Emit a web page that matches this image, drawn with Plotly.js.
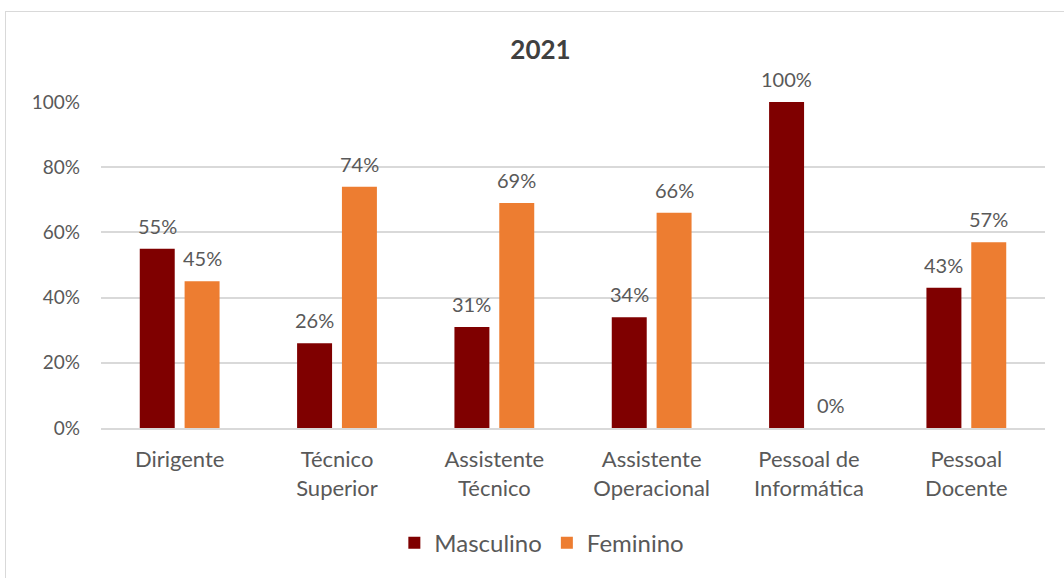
<!DOCTYPE html>
<html>
<head>
<meta charset="utf-8">
<script src="https://cdn.plot.ly/plotly-3.0.1.min.js"></script>
<style>
body{margin:0;background:#fff;}
#chart{position:absolute;left:0;top:0;width:1064px;height:578px;}
#frame{position:absolute;left:5px;top:11px;width:1070px;height:580px;border:1.5px solid #d9d9d9;pointer-events:none;}
</style>
</head>
<body>
<div id="chart"></div>
<div id="frame"></div>
<script>
const categories = ["Dirigente", "Técnico<br>Superior", "Assistente<br>Técnico", "Assistente<br>Operacional", "Pessoal de<br>Informática", "Pessoal<br>Docente"];
const masculino = [0.55, 0.26, 0.31, 0.34, 1.00, 0.43];
const feminino = [0.45, 0.74, 0.69, 0.66, 0.00, 0.57];
const yTicks = [0, 0.2, 0.4, 0.6, 0.8, 1.0];

const fontFam = 'Lato, "Open Sans", Arial, sans-serif';
const grey = '#595959';
const bargap = 0.43;

const data = [
  {type: 'bar', name: 'Masculino', x: categories, y: masculino, marker: {color: '#7f0000'}, hoverinfo: 'none'},
  {type: 'bar', name: 'Feminino', x: categories, y: feminino, marker: {color: '#ed7d31'}, hoverinfo: 'none'}
];

const off = (1 - bargap) / 4;
const annotations = [];
[masculino, feminino].forEach((vals, s) => {
  vals.forEach((v, i) => {
    annotations.push({
      x: i + (s === 0 ? -off : off), y: v, xref: 'x', yref: 'y',
      text: Math.round(v * 100) + '%', showarrow: false,
      yanchor: 'middle', xanchor: 'center', yshift: 23,
      font: {family: fontFam, size: 20, color: grey}
    });
  });
});

const layout = {
  width: 1064, height: 578,
  margin: {l: 101, r: 19, t: 102, b: 147},
  paper_bgcolor: '#fff', plot_bgcolor: '#fff',
  font: {family: fontFam, color: grey, size: 19},
  title: {text: '<b>2021</b>', x: 0.508, xanchor: 'center', y: 0.913, yanchor: 'middle',
          font: {family: fontFam, size: 26, color: '#404040'}},
  barmode: 'group', bargap: bargap, bargroupgap: 0.22,
  xaxis: {tickfont: {family: fontFam, size: 22, color: grey}, showline: true, linecolor: '#d9d9d9', linewidth: 2,
          ticks: 'outside', ticklen: 11, tickcolor: 'rgba(0,0,0,0)', fixedrange: true},
  yaxis: {range: [0, 1], tickvals: yTicks, tickformat: '.0%', gridcolor: '#d9d9d9', gridwidth: 2,
          zeroline: false, tickfont: {family: fontFam, size: 19, color: grey}, ticklabelstandoff: 20, fixedrange: true},
  annotations: annotations,
  showlegend: true,
  legend: {orientation: 'h', x: 0.467, xanchor: 'center', y: -0.353, yanchor: 'middle',
           font: {family: fontFam, size: 24, color: grey}, itemwidth: 30, tracegroupgap: 0},
};

Plotly.newPlot('chart', data, layout, {displayModeBar: false, staticPlot: true});
</script>
</body>
</html>
